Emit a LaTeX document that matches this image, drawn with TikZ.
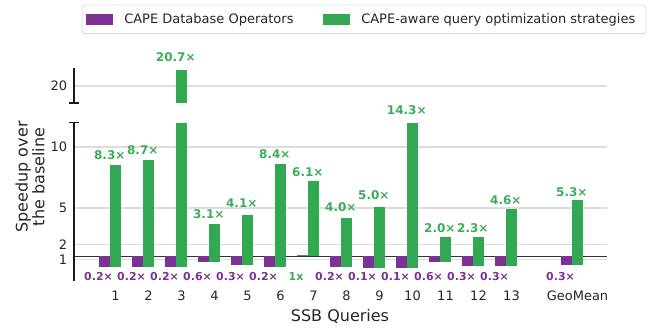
\documentclass[tikz,border=0pt]{standalone}
\usepackage{fontspec}
\setmainfont{DejaVu Sans}
\definecolor{cpurple}{RGB}{123,50,148}
\definecolor{cgreen}{RGB}{51,168,82}
\definecolor{glabc}{RGB}{60,172,90}
\definecolor{gridc}{RGB}{221,221,221}
\definecolor{basec}{RGB}{51,51,51}
\tikzset{
  pbar/.style={fill=cpurple},
  gbar/.style={fill=cgreen},
  glab/.style={text=glabc, font=\bfseries\fontsize{9}{9}\selectfont, inner sep=0pt},
  plab/.style={text=cpurple, font=\bfseries\fontsize{8.2}{8.2}\selectfont, inner sep=0pt},
  gridline/.style={draw=gridc, line width=1pt},
  ticklab/.style={font=\fontsize{9.75}{9.75}\selectfont, text=black!85, inner sep=0pt},
  spine/.style={draw=black!90, line width=0.9pt},
  axlab/.style={font=\fontsize{12}{12.5}\selectfont, text=black!85, inner sep=0pt}
}
\begin{document}
\begin{tikzpicture}[x=0.75pt,y=-0.75pt]
\useasboundingbox (0,0) rectangle (652,329);
% legend
\draw[draw=gridc, fill=white, rounded corners=2pt, line width=0.7pt] (82,5) rectangle (646,33.5);
\fill[pbar] (86,14) rectangle (113,25);
\node[ticklab, anchor=west] (lg1) at (124,19.5) {CAPE Database Operators};
\fill[gbar] (323,14) rectangle (350,25);
\node[ticklab, anchor=west] (lg2) at (361,19.5) {CAPE-aware query optimization strategies};
% grid
\foreach \yy in {86,147,208,244.5,259.7} \draw[gridline] (74,\yy) -- (607,\yy);
\draw[draw=basec, line width=0.9pt] (74,256.3) -- (607,256.3);
% y tick labels
\node[ticklab, anchor=east] (t20) at (67.5,86) {20};
\node[ticklab, anchor=east] (t10) at (67.5,147) {10};
\node[ticklab, anchor=east] (t5) at (67.5,208) {5};
\node[ticklab, anchor=east] (t2) at (67.5,244.5) {2};
\node[ticklab, anchor=east] (t1) at (67.5,260) {1};
% spines
\draw[spine] (74,68) -- (74,103);
\draw[spine] (69,103) -- (79,103);
\draw[spine] (74,122.5) -- (74,281);
\draw[spine] (69,122.5) -- (79,122.5);
% bars: index / green top / green label y / green label / purple bottom / purple label
\foreach \i/\gt/\ly/\gl/\pb/\pl in {
  1/165/155/8.3×/266.7/0.2×,
  2/160/150/8.7×/266.7/0.2×,
  3/123/57.3/20.7×/266.7/0.2×,
  4/224/214/3.1×/261.7/0.6×,
  5/215/203.3/4.1×/265/0.3×,
  6/164/154/8.4×/266.7/0.2×,
  8/218.3/207/4.0×/266.7/0.2×,
  9/207.3/195/5.0×/267.7/0.1×,
  10/123/110/14.3×/267.7/0.1×,
  11/237/227.7/2.0×/261.7/0.6×,
  12/237/227.7/2.3×/265.7/0.3×,
  13/209/200/4.6×/265.7/0.3×,
  15/200/191.7/5.3×/265/0.3×}{
  \pgfmathsetmacro{\c}{115.5+33*(\i-1)}
  \fill[pbar] (\c-17,256.3) rectangle (\c-6,\pb);
  \fill[gbar] (\c-5.5,\pb) rectangle (\c+5.5,\gt);
  \node[glab] (gl\i) at (\c-5.7,\ly) {\gl};
  \node[plab] (pl\i) at (\c-17,277) {\pl};
}
% bar 3 upper part
\fill[gbar] (176,70) rectangle (187,102.7);
% bar 7
\fill[gbar] (296.5,254.7) rectangle (307.5,256.3);
\fill[gbar] (308,256.3) rectangle (319,181);
\node[glab] (gl7) at (307.8,172) {6.1×};
\node[plab, text=glabc] (pl7) at (296,277) {1x};
% x tick labels
\foreach \i/\t in {1/1,2/2,3/3,4/4,5/5,6/6,7/7,8/8,9/9,10/10,11/11,12/12,13/13,15/GeoMean}{
  \pgfmathsetmacro{\c}{115.5+33*(\i-1)}
  \node[ticklab, anchor=base] (xl\i) at (\c,300) {\t};
}
% axis labels
\node[axlab, anchor=base] (xlab) at (340,321) {SSB Queries};
\node[axlab, rotate=90, align=center] (ylab) at (30,177) {Speedup over\\the baseline};
\end{tikzpicture}
\end{document}
